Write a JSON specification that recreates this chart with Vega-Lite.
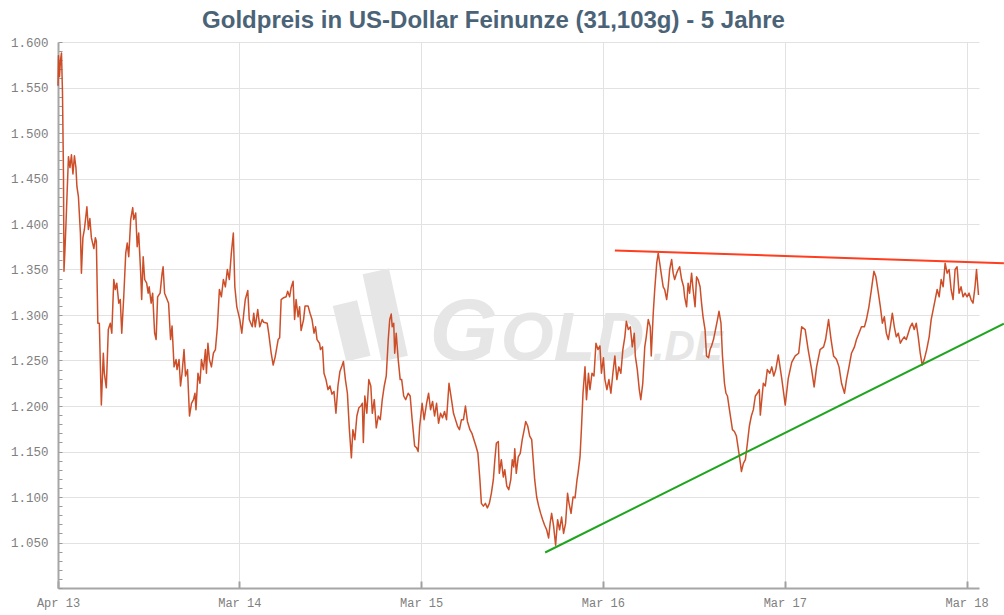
{
  "$schema": "https://vega.github.io/schema/vega-lite/v6.json",
  "width": 921,
  "height": 546,
  "autosize": {"type": "none"},
  "padding": {"left": 58, "top": 42, "right": 25, "bottom": 27},
  "background": "white",
  "config": {"view": {"stroke": null}},
  "title": {
    "text": "Goldpreis in US-Dollar Feinunze (31,103g) - 5 Jahre",
    "font": "Liberation Sans",
    "fontSize": 24,
    "fontWeight": "bold",
    "color": "#4b6377",
    "anchor": "middle",
    "frame": "group",
    "dx": -25,
    "offset": -16,
    "baseline": "alphabetic"
  },
  "datasets": {
    "gold": [
      {"date":"2013-04-01","price":1552},{"date":"2013-04-02","price":1585},{"date":"2013-04-04","price":1562},{"date":"2013-04-06","price":1580},{"date":"2013-04-08","price":1588},{"date":"2013-04-10","price":1545},{"date":"2013-04-12","price":1455},{"date":"2013-04-13","price":1348},{"date":"2013-04-15","price":1372},{"date":"2013-04-17","price":1400},{"date":"2013-04-19","price":1430},{"date":"2013-04-22","price":1474},{"date":"2013-04-25","price":1462},{"date":"2013-04-28","price":1476},{"date":"2013-05-01","price":1455},{"date":"2013-05-04","price":1475},{"date":"2013-05-07","price":1462},{"date":"2013-05-09","price":1441},{"date":"2013-05-12","price":1430},{"date":"2013-05-16","price":1390},{"date":"2013-05-18","price":1346},{"date":"2013-05-21","price":1385},{"date":"2013-05-24","price":1394},{"date":"2013-05-29","price":1419},{"date":"2013-06-01","price":1394},{"date":"2013-06-04","price":1406},{"date":"2013-06-07","price":1385},{"date":"2013-06-12","price":1373},{"date":"2013-06-15","price":1385},{"date":"2013-06-17","price":1381},{"date":"2013-06-20","price":1291},{"date":"2013-06-23","price":1291},{"date":"2013-06-27","price":1201},{"date":"2013-07-01","price":1258},{"date":"2013-07-03","price":1236},{"date":"2013-07-07","price":1220},{"date":"2013-07-11","price":1284},{"date":"2013-07-15","price":1291},{"date":"2013-07-18","price":1280},{"date":"2013-07-22","price":1339},{"date":"2013-07-25","price":1328},{"date":"2013-07-28","price":1335},{"date":"2013-08-01","price":1313},{"date":"2013-08-04","price":1317},{"date":"2013-08-07","price":1280},{"date":"2013-08-11","price":1320},{"date":"2013-08-15","price":1368},{"date":"2013-08-18","price":1379},{"date":"2013-08-21","price":1364},{"date":"2013-08-25","price":1405},{"date":"2013-08-29","price":1418},{"date":"2013-08-31","price":1405},{"date":"2013-09-04","price":1412},{"date":"2013-09-07","price":1375},{"date":"2013-09-10","price":1390},{"date":"2013-09-14","price":1346},{"date":"2013-09-16","price":1317},{"date":"2013-09-19","price":1364},{"date":"2013-09-22","price":1339},{"date":"2013-09-26","price":1335},{"date":"2013-09-29","price":1324},{"date":"2013-10-01","price":1331},{"date":"2013-10-05","price":1313},{"date":"2013-10-08","price":1324},{"date":"2013-10-12","price":1280},{"date":"2013-10-15","price":1273},{"date":"2013-10-18","price":1320},{"date":"2013-10-23","price":1324},{"date":"2013-10-27","price":1346},{"date":"2013-10-29","price":1353},{"date":"2013-11-01","price":1324},{"date":"2013-11-06","price":1317},{"date":"2013-11-09","price":1313},{"date":"2013-11-13","price":1273},{"date":"2013-11-16","price":1288},{"date":"2013-11-20","price":1243},{"date":"2013-11-24","price":1251},{"date":"2013-11-26","price":1240},{"date":"2013-11-30","price":1251},{"date":"2013-12-03","price":1222},{"date":"2013-12-06","price":1236},{"date":"2013-12-10","price":1262},{"date":"2013-12-13","price":1233},{"date":"2013-12-17","price":1240},{"date":"2013-12-21","price":1189},{"date":"2013-12-25","price":1203},{"date":"2013-12-29","price":1207},{"date":"2014-01-01","price":1214},{"date":"2014-01-03","price":1196},{"date":"2014-01-07","price":1236},{"date":"2014-01-11","price":1225},{"date":"2014-01-14","price":1251},{"date":"2014-01-18","price":1240},{"date":"2014-01-22","price":1262},{"date":"2014-01-24","price":1236},{"date":"2014-01-27","price":1269},{"date":"2014-01-30","price":1251},{"date":"2014-02-03","price":1243},{"date":"2014-02-07","price":1258},{"date":"2014-02-11","price":1262},{"date":"2014-02-15","price":1287},{"date":"2014-02-19","price":1328},{"date":"2014-02-23","price":1320},{"date":"2014-02-27","price":1339},{"date":"2014-03-03","price":1331},{"date":"2014-03-07","price":1350},{"date":"2014-03-11","price":1339},{"date":"2014-03-15","price":1368},{"date":"2014-03-19","price":1390},{"date":"2014-03-22","price":1331},{"date":"2014-03-26","price":1309},
      {"date":"2014-04-01","price":1295},{"date":"2014-04-05","price":1280},{"date":"2014-04-09","price":1302},{"date":"2014-04-12","price":1317},{"date":"2014-04-17","price":1327},{"date":"2014-04-20","price":1295},{"date":"2014-04-23","price":1291},{"date":"2014-04-26","price":1287},{"date":"2014-04-29","price":1302},{"date":"2014-05-02","price":1287},{"date":"2014-05-07","price":1306},{"date":"2014-05-11","price":1287},{"date":"2014-05-16","price":1295},{"date":"2014-05-19","price":1292},{"date":"2014-05-26","price":1291},{"date":"2014-05-29","price":1280},{"date":"2014-06-03","price":1258},{"date":"2014-06-07","price":1245},{"date":"2014-06-11","price":1254},{"date":"2014-06-17","price":1273},{"date":"2014-06-20","price":1275},{"date":"2014-06-23","price":1317},{"date":"2014-06-28","price":1319},{"date":"2014-07-03","price":1320},{"date":"2014-07-06","price":1326},{"date":"2014-07-10","price":1320},{"date":"2014-07-13","price":1330},{"date":"2014-07-17","price":1337},{"date":"2014-07-20","price":1295},{"date":"2014-07-23","price":1317},{"date":"2014-07-27","price":1298},{"date":"2014-07-30","price":1309},{"date":"2014-08-02","price":1283},{"date":"2014-08-07","price":1295},{"date":"2014-08-10","price":1310},{"date":"2014-08-16","price":1310},{"date":"2014-08-20","price":1302},{"date":"2014-08-24","price":1295},{"date":"2014-08-28","price":1280},{"date":"2014-08-31","price":1287},{"date":"2014-09-03","price":1273},{"date":"2014-09-08","price":1269},{"date":"2014-09-10","price":1262},{"date":"2014-09-14","price":1265},{"date":"2014-09-17","price":1236},{"date":"2014-09-21","price":1229},{"date":"2014-09-25","price":1218},{"date":"2014-09-29","price":1222},{"date":"2014-10-03","price":1213},{"date":"2014-10-07","price":1216},{"date":"2014-10-11","price":1192},{"date":"2014-10-15","price":1222},{"date":"2014-10-19","price":1238},{"date":"2014-10-23","price":1244},{"date":"2014-10-26","price":1249},{"date":"2014-10-30","price":1229},{"date":"2014-11-03","price":1214},{"date":"2014-11-07","price":1174},{"date":"2014-11-11","price":1143},{"date":"2014-11-14","price":1174},{"date":"2014-11-18","price":1163},{"date":"2014-11-22","price":1189},{"date":"2014-11-26","price":1198},{"date":"2014-11-30","price":1200},{"date":"2014-12-03","price":1203},{"date":"2014-12-05","price":1160},{"date":"2014-12-08","price":1211},{"date":"2014-12-12","price":1192},{"date":"2014-12-16","price":1229},{"date":"2014-12-20","price":1222},{"date":"2014-12-23","price":1192},{"date":"2014-12-27","price":1207},{"date":"2014-12-31","price":1176},{"date":"2015-01-04","price":1189},{"date":"2015-01-08","price":1185},{"date":"2015-01-12","price":1207},{"date":"2015-01-16","price":1222},{"date":"2015-01-20","price":1233},{"date":"2015-01-24","price":1273},{"date":"2015-01-27","price":1295},{"date":"2015-01-30","price":1301},{"date":"2015-02-01","price":1287},{"date":"2015-02-04","price":1291},{"date":"2015-02-06","price":1258},{"date":"2015-02-09","price":1280},{"date":"2015-02-13","price":1251},{"date":"2015-02-17","price":1229},{"date":"2015-02-20","price":1229},{"date":"2015-02-24","price":1211},{"date":"2015-02-28","price":1207},{"date":"2015-03-05","price":1214},{"date":"2015-03-09","price":1211},{"date":"2015-03-13","price":1185},{"date":"2015-03-18","price":1156},{"date":"2015-03-22","price":1154},{"date":"2015-03-25","price":1150},{"date":"2015-03-28","price":1177},
      {"date":"2015-04-02","price":1203},{"date":"2015-04-06","price":1185},{"date":"2015-04-11","price":1203},{"date":"2015-04-15","price":1214},{"date":"2015-04-19","price":1196},{"date":"2015-04-23","price":1205},{"date":"2015-04-27","price":1189},{"date":"2015-05-01","price":1203},{"date":"2015-05-05","price":1181},{"date":"2015-05-09","price":1192},{"date":"2015-05-13","price":1187},{"date":"2015-05-17","price":1194},{"date":"2015-05-21","price":1185},{"date":"2015-05-26","price":1225},{"date":"2015-05-31","price":1207},{"date":"2015-06-04","price":1192},{"date":"2015-06-08","price":1185},{"date":"2015-06-12","price":1178},{"date":"2015-06-16","price":1174},{"date":"2015-06-20","price":1185},{"date":"2015-06-24","price":1185},{"date":"2015-06-28","price":1200},{"date":"2015-07-02","price":1183},{"date":"2015-07-07","price":1174},{"date":"2015-07-11","price":1170},{"date":"2015-07-15","price":1163},{"date":"2015-07-19","price":1156},{"date":"2015-07-23","price":1148},{"date":"2015-07-27","price":1119},{"date":"2015-07-30","price":1093},{"date":"2015-08-03","price":1090},{"date":"2015-08-07","price":1093},{"date":"2015-08-11","price":1088},{"date":"2015-08-15","price":1093},{"date":"2015-08-19","price":1104},{"date":"2015-08-23","price":1119},{"date":"2015-08-26","price":1141},{"date":"2015-08-29","price":1159},{"date":"2015-09-02","price":1161},{"date":"2015-09-04","price":1126},{"date":"2015-09-08","price":1141},{"date":"2015-09-12","price":1122},{"date":"2015-09-15","price":1130},{"date":"2015-09-19","price":1112},{"date":"2015-09-23","price":1108},{"date":"2015-09-27","price":1119},{"date":"2015-09-30","price":1141},{"date":"2015-10-03","price":1133},{"date":"2015-10-05","price":1153},{"date":"2015-10-08","price":1126},{"date":"2015-10-12","price":1144},{"date":"2015-10-16","price":1148},{"date":"2015-10-20","price":1163},{"date":"2015-10-24","price":1174},{"date":"2015-10-27","price":1183},{"date":"2015-10-31","price":1178},{"date":"2015-11-04","price":1167},{"date":"2015-11-08","price":1163},{"date":"2015-11-11","price":1141},{"date":"2015-11-14","price":1119},{"date":"2015-11-18","price":1100},{"date":"2015-11-22","price":1090},{"date":"2015-11-26","price":1082},{"date":"2015-11-30","price":1075},{"date":"2015-12-04","price":1069},{"date":"2015-12-08","price":1064},{"date":"2015-12-12","price":1055},{"date":"2015-12-15","price":1071},{"date":"2015-12-18","price":1082},{"date":"2015-12-22","price":1068},{"date":"2015-12-26","price":1047},{"date":"2015-12-30","price":1075},{"date":"2016-01-03","price":1064},{"date":"2016-01-07","price":1078},{"date":"2016-01-11","price":1060},{"date":"2016-01-15","price":1071},{"date":"2016-01-19","price":1104},{"date":"2016-01-22","price":1093},{"date":"2016-01-26","price":1082},{"date":"2016-01-30","price":1100},{"date":"2016-02-03","price":1099},{"date":"2016-02-07","price":1119},{"date":"2016-02-09","price":1126},{"date":"2016-02-13","price":1144},{"date":"2016-02-16","price":1177},{"date":"2016-02-19","price":1214},{"date":"2016-02-23","price":1243},{"date":"2016-02-26","price":1207},{"date":"2016-03-01","price":1236},{"date":"2016-03-04","price":1218},{"date":"2016-03-08","price":1236},{"date":"2016-03-12","price":1233},{"date":"2016-03-16","price":1269},{"date":"2016-03-20","price":1262},{"date":"2016-03-24","price":1266},{"date":"2016-03-27","price":1236},{"date":"2016-03-31","price":1253},
      {"date":"2016-04-03","price":1229},{"date":"2016-04-07","price":1218},{"date":"2016-04-11","price":1229},{"date":"2016-04-15","price":1214},{"date":"2016-04-19","price":1236},{"date":"2016-04-23","price":1255},{"date":"2016-04-27","price":1229},{"date":"2016-05-01","price":1243},{"date":"2016-05-05","price":1236},{"date":"2016-05-09","price":1262},{"date":"2016-05-13","price":1276},{"date":"2016-05-16","price":1293},{"date":"2016-05-20","price":1284},{"date":"2016-05-24","price":1287},{"date":"2016-05-28","price":1265},{"date":"2016-06-01","price":1280},{"date":"2016-06-03","price":1255},{"date":"2016-06-07","price":1240},{"date":"2016-06-11","price":1218},{"date":"2016-06-14","price":1207},{"date":"2016-06-18","price":1225},{"date":"2016-06-22","price":1265},{"date":"2016-06-25","price":1276},{"date":"2016-06-29","price":1295},{"date":"2016-07-03","price":1287},{"date":"2016-07-05","price":1255},{"date":"2016-07-09","price":1302},{"date":"2016-07-12","price":1328},{"date":"2016-07-16","price":1357},{"date":"2016-07-19","price":1368},{"date":"2016-07-22","price":1357},{"date":"2016-07-26","price":1342},{"date":"2016-07-29","price":1331},{"date":"2016-08-01","price":1328},{"date":"2016-08-05","price":1317},{"date":"2016-08-08","price":1331},{"date":"2016-08-11","price":1350},{"date":"2016-08-15","price":1361},{"date":"2016-08-18","price":1346},{"date":"2016-08-21","price":1339},{"date":"2016-08-25","price":1346},{"date":"2016-08-28","price":1350},{"date":"2016-08-31","price":1353},{"date":"2016-09-04","price":1339},{"date":"2016-09-08","price":1331},{"date":"2016-09-10","price":1320},{"date":"2016-09-14","price":1309},{"date":"2016-09-17","price":1335},{"date":"2016-09-20","price":1324},{"date":"2016-09-24","price":1346},{"date":"2016-09-27","price":1328},{"date":"2016-10-01","price":1309},{"date":"2016-10-04","price":1342},{"date":"2016-10-07","price":1339},{"date":"2016-10-11","price":1331},{"date":"2016-10-14","price":1313},{"date":"2016-10-17","price":1298},{"date":"2016-10-21","price":1284},{"date":"2016-10-24","price":1255},{"date":"2016-10-28","price":1253},{"date":"2016-10-31","price":1262},{"date":"2016-11-03","price":1266},{"date":"2016-11-07","price":1273},{"date":"2016-11-11","price":1284},{"date":"2016-11-15","price":1295},{"date":"2016-11-18","price":1304},{"date":"2016-11-22","price":1291},{"date":"2016-11-25","price":1255},{"date":"2016-11-29","price":1225},{"date":"2016-12-02","price":1214},{"date":"2016-12-05","price":1211},{"date":"2016-12-09","price":1196},{"date":"2016-12-12","price":1185},{"date":"2016-12-15","price":1174},{"date":"2016-12-19","price":1172},{"date":"2016-12-23","price":1167},{"date":"2016-12-27","price":1152},{"date":"2016-12-31","price":1137},{"date":"2017-01-02","price":1128},{"date":"2017-01-06","price":1137},{"date":"2017-01-10","price":1141},{"date":"2017-01-14","price":1159},{"date":"2017-01-18","price":1178},{"date":"2017-01-22","price":1189},{"date":"2017-01-26","price":1196},{"date":"2017-01-30","price":1211},{"date":"2017-02-03","price":1214},{"date":"2017-02-07","price":1218},{"date":"2017-02-09","price":1190},{"date":"2017-02-15","price":1225},{"date":"2017-02-19","price":1222},{"date":"2017-02-23","price":1240},{"date":"2017-02-28","price":1236},{"date":"2017-03-04","price":1243},{"date":"2017-03-08","price":1233},{"date":"2017-03-12","price":1240},{"date":"2017-03-17","price":1256},
      {"date":"2017-03-24","price":1230},{"date":"2017-03-31","price":1201},{"date":"2017-04-06","price":1230},{"date":"2017-04-13","price":1248},{"date":"2017-04-20","price":1255},{"date":"2017-04-27","price":1258},{"date":"2017-05-03","price":1287},{"date":"2017-05-10","price":1284},{"date":"2017-05-16","price":1262},{"date":"2017-05-23","price":1240},{"date":"2017-05-28","price":1221},{"date":"2017-06-02","price":1243},{"date":"2017-06-09","price":1262},{"date":"2017-06-16","price":1265},{"date":"2017-06-20","price":1273},{"date":"2017-06-26","price":1295},{"date":"2017-07-01","price":1273},{"date":"2017-07-06","price":1255},{"date":"2017-07-12","price":1251},{"date":"2017-07-17","price":1243},{"date":"2017-07-22","price":1225},{"date":"2017-07-28","price":1214},{"date":"2017-08-01","price":1229},{"date":"2017-08-06","price":1243},{"date":"2017-08-11","price":1258},{"date":"2017-08-17","price":1265},{"date":"2017-08-21","price":1273},{"date":"2017-08-26","price":1280},{"date":"2017-08-31","price":1287},{"date":"2017-09-06","price":1287},{"date":"2017-09-10","price":1295},{"date":"2017-09-15","price":1309},{"date":"2017-09-20","price":1328},{"date":"2017-09-25","price":1348},{"date":"2017-09-29","price":1342},{"date":"2017-10-04","price":1324},{"date":"2017-10-08","price":1309},{"date":"2017-10-12","price":1291},{"date":"2017-10-16","price":1298},{"date":"2017-10-20","price":1280},{"date":"2017-10-24","price":1273},{"date":"2017-10-28","price":1287},{"date":"2017-11-01","price":1302},{"date":"2017-11-05","price":1287},{"date":"2017-11-09","price":1276},{"date":"2017-11-13","price":1280},{"date":"2017-11-17","price":1269},{"date":"2017-11-21","price":1273},{"date":"2017-11-25","price":1276},{"date":"2017-11-29","price":1273},{"date":"2017-12-03","price":1280},{"date":"2017-12-07","price":1287},{"date":"2017-12-11","price":1291},{"date":"2017-12-15","price":1284},{"date":"2017-12-19","price":1291},{"date":"2017-12-23","price":1276},{"date":"2017-12-27","price":1258},{"date":"2017-12-31","price":1245},{"date":"2018-01-04","price":1251},{"date":"2018-01-09","price":1262},{"date":"2018-01-14","price":1276},{"date":"2018-01-18","price":1295},{"date":"2018-01-22","price":1306},{"date":"2018-01-26","price":1317},{"date":"2018-01-30","price":1328},{"date":"2018-02-03","price":1320},{"date":"2018-02-07","price":1339},{"date":"2018-02-11","price":1331},{"date":"2018-02-15","price":1357},{"date":"2018-02-19","price":1346},{"date":"2018-02-23","price":1350},{"date":"2018-02-27","price":1328},{"date":"2018-03-03","price":1317},{"date":"2018-03-07","price":1350},{"date":"2018-03-11","price":1353},{"date":"2018-03-15","price":1324},{"date":"2018-03-19","price":1331},{"date":"2018-03-23","price":1320},{"date":"2018-03-27","price":1324},{"date":"2018-03-31","price":1320},{"date":"2018-04-04","price":1324},{"date":"2018-04-08","price":1317},{"date":"2018-04-12","price":1313},{"date":"2018-04-16","price":1331},{"date":"2018-04-19","price":1350},{"date":"2018-04-23","price":1322}
    ],
    "widerstand": [
      {"date":"2016-04-23","price":1371},
      {"date":"2018-06-13","price":1357}
    ],
    "unterstuetzung": [
      {"date":"2015-12-05","price":1039},
      {"date":"2018-06-13","price":1290.5}
    ]
  },
  "layer": [
    {
      "data": {"values": [{}]},
      "mark": {"type": "rule", "color": "#e6e6e6", "strokeWidth": 25, "strokeCap": "butt"},
      "encoding": {
        "x": {"datum": {"year": 2014, "month": 10, "date": 29, "utc": true}, "type": "temporal"},
        "y": {"datum": 1313, "type": "quantitative"},
        "x2": {"datum": {"year": 2014, "month": 11, "date": 25, "utc": true}},
        "y2": {"datum": 1252}
      }
    },
    {
      "data": {"values": [{}]},
      "mark": {"type": "rule", "color": "#e6e6e6", "strokeWidth": 27, "strokeCap": "butt"},
      "encoding": {
        "x": {"datum": {"year": 2014, "month": 12, "date": 30, "utc": true}, "type": "temporal"},
        "y": {"datum": 1348, "type": "quantitative"},
        "x2": {"datum": {"year": 2015, "month": 2, "date": 6, "utc": true}},
        "y2": {"datum": 1252}
      }
    },
    {
      "data": {"values": [{}]},
      "mark": {"type": "text", "text": "G", "font": "Liberation Sans", "fontSize": 88, "fontStyle": "italic", "fontWeight": "bold", "color": "#e6e6e6", "align": "left", "baseline": "alphabetic"},
      "encoding": {
        "x": {"datum": {"year": 2015, "month": 4, "date": 17, "utc": true}, "type": "temporal"},
        "y": {"datum": 1251, "type": "quantitative"}
      }
    },
    {
      "data": {"values": [{}]},
      "mark": {"type": "text", "text": "OLD", "font": "Liberation Sans", "fontSize": 68, "fontStyle": "italic", "fontWeight": "bold", "color": "#e6e6e6", "align": "left", "baseline": "alphabetic"},
      "encoding": {
        "x": {"datum": {"year": 2015, "month": 9, "date": 7, "utc": true}, "type": "temporal"},
        "y": {"datum": 1251, "type": "quantitative"}
      }
    },
    {
      "data": {"values": [{}]},
      "mark": {"type": "text", "text": ".DE", "font": "Liberation Sans", "fontSize": 42, "fontStyle": "italic", "fontWeight": "bold", "color": "#e6e6e6", "align": "left", "baseline": "alphabetic"},
      "encoding": {
        "x": {"datum": {"year": 2016, "month": 7, "date": 8, "utc": true}, "type": "temporal"},
        "y": {"datum": 1251, "type": "quantitative"}
      }
    },
    {
      "data": {"name": "gold"},
      "mark": {"type": "line", "color": "#c9461f", "strokeWidth": 1.5, "strokeJoin": "round", "opacity": 0.95},
      "encoding": {
        "x": {
          "field": "date",
          "type": "temporal",
          "scale": {"type": "utc", "domain": [{"year": 2013, "month": 4, "date": 1, "utc": true}, {"year": 2018, "month": 4, "date": 24, "utc": true}]},
          "axis": {
            "values": [
              {"year": 2013, "month": 4, "date": 1, "utc": true},
              {"year": 2014, "month": 3, "date": 31, "utc": true},
              {"year": 2015, "month": 3, "date": 31, "utc": true},
              {"year": 2016, "month": 3, "date": 30, "utc": true},
              {"year": 2017, "month": 3, "date": 30, "utc": true},
              {"year": 2018, "month": 3, "date": 30, "utc": true}
            ],
            "tickCount": 100,
            "format": "%b %y",
            "title": null,
            "grid": true,
            "gridColor": "#e2e2e2",
            "gridWidth": 1,
            "domainColor": "#a6a6a6",
            "domainWidth": 2,
            "tickColor": "#a0a0a0",
            "tickWidth": 2,
            "tickSize": -7,
            "labelPadding": 16,
            "labelFont": "Liberation Mono",
            "labelFontSize": 12,
            "labelColor": "#808080",
            "labelFlush": false,
            "labelOverlap": false
          }
        },
        "y": {
          "field": "price",
          "type": "quantitative",
          "scale": {"domain": [1000, 1600], "nice": false, "zero": false},
          "axis": {
            "values": [1000,1010,1020,1030,1040,1050,1060,1070,1080,1090,1100,1110,1120,1130,1140,1150,1160,1170,1180,1190,1200,1210,1220,1230,1240,1250,1260,1270,1280,1290,1300,1310,1320,1330,1340,1350,1360,1370,1380,1390,1400,1410,1420,1430,1440,1450,1460,1470,1480,1490,1500,1510,1520,1530,1540,1550,1560,1570,1580,1590,1600],
            "tickCount": 100,
            "labelExpr": "datum.value % 50 === 0 && datum.value > 1000 ? replace(format(datum.value, ','), ',', '.') : ''",
            "title": null,
            "grid": true,
            "gridColor": "#e2e2e2",
            "gridOpacity": {"condition": {"test": "datum.value % 50 === 0 && datum.value > 1000", "value": 1}, "value": 0},
            "domainColor": "#a6a6a6",
            "domainWidth": 2,
            "tickColor": "#9a9a9a",
            "tickWidth": 1,
            "tickSize": -4,
            "labelPadding": 14,
            "labelFont": "Liberation Mono",
            "labelFontSize": 12.5,
            "labelColor": "#808080",
            "labelFlush": false,
            "labelOverlap": false
          }
        }
      }
    },
    {
      "data": {"name": "widerstand"},
      "mark": {"type": "line", "color": "#ff3d1f", "strokeWidth": 2},
      "encoding": {
        "x": {"field": "date", "type": "temporal"},
        "y": {"field": "price", "type": "quantitative"}
      }
    },
    {
      "data": {"name": "unterstuetzung"},
      "mark": {"type": "line", "color": "#1fa51f", "strokeWidth": 2},
      "encoding": {
        "x": {"field": "date", "type": "temporal"},
        "y": {"field": "price", "type": "quantitative"}
      }
    }
  ]
}
